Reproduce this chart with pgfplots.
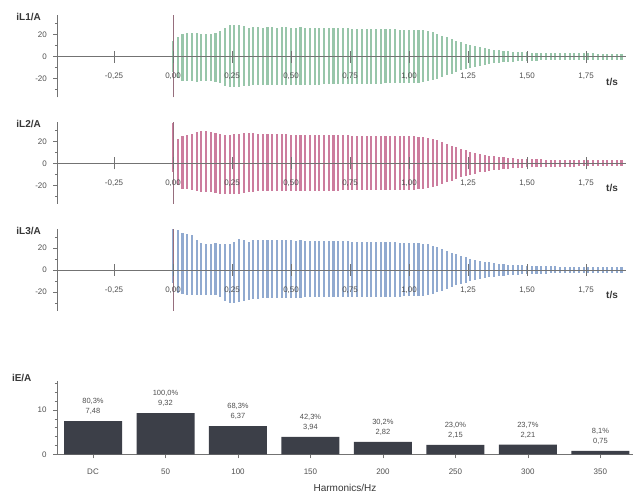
\documentclass[border=0pt]{standalone}
\usepackage{pgfplots}
\usepackage{pgfplotstable}
\pgfplotsset{compat=1.18}
\usepackage{fontspec}
\setmainfont{Liberation Sans}
\definecolor{axgray}{RGB}{115,115,115}
\definecolor{lblgray}{RGB}{80,80,80}
\definecolor{ttlcol}{RGB}{55,55,55}
\definecolor{wgreen}{RGB}{152,198,170}
\definecolor{wpink}{RGB}{204,125,158}
\definecolor{wblue}{RGB}{145,170,208}
\definecolor{barcol}{RGB}{60,63,72}
\definecolor{cursor}{RGB}{150,110,125}

\pgfplotstableread{
t h1 l1 h2 l2 h3 l3
0.00 14 -14 37 -8 37 -12
0.02 18 -19 22 -20 36.5 -21
0.04 21 -22 25 -23 34 -22
0.06 21.5 -22.5 26 -23.5 33 -22.5
0.08 21.5 -22.5 27 -24.5 31.5 -22.5
0.10 21.5 -23 28.5 -25.5 27.5 -22.5
0.12 21 -22.5 29 -26 24.5 -22.5
0.14 21 -22.5 29 -26.5 23.5 -22.5
0.16 21 -22.5 28.5 -26.5 24 -22.5
0.18 21.5 -23 27.5 -27 24.5 -23
0.20 23 -24 26.5 -27.5 24 -25
0.22 26 -26.5 26 -28 23.5 -28
0.24 28.5 -27.5 26 -28 23.5 -30
0.26 29 -28 26.5 -28 25.5 -30
0.28 29 -27.5 27 -27.5 28 -29
0.30 27.5 -27 27.5 -27 27.5 -28
0.32 26 -26.5 27.5 -26.5 25.5 -27
0.34 27 -26 27.5 -26 27 -26
0.36 27 -26 27 -25.5 27.5 -26
0.38 26.5 -25.5 27 -25.5 27 -25.5
0.40 27 -26 27 -25.5 27 -25.5
0.42 27 -26 26.5 -25.5 26.8 -25.5
0.44 26.5 -25.5 27 -25.5 27 -25.5
0.46 27 -26 26.5 -25.5 26.8 -25.5
0.48 27 -26 26.5 -25 26.8 -25.5
0.50 26.5 -25.5 26 -25 26.8 -25.5
0.52 26.5 -25.5 26 -25 26.5 -25.5
0.54 27 -26 26 -25 26.8 -25.5
0.56 26.5 -25.5 26 -25 26.5 -25
0.58 26.5 -25.5 26 -25 26.5 -25
0.60 26.5 -25.5 25.5 -25 26.3 -25
0.62 26.5 -25.5 25.5 -25 26 -24.5
0.64 26 -25 25.5 -25 26 -24.5
0.66 26 -25 25.5 -25 26 -24.5
0.68 26 -25 25.5 -25 26 -24.5
0.70 26 -25 25.5 -25 26 -24.5
0.72 26 -25 25.5 -24.5 26 -24.5
0.74 26 -25 25.5 -24.5 26 -24.5
0.76 25.5 -25 25 -24.5 25.8 -24.5
0.78 25.5 -24.5 25 -24.5 25.8 -24.5
0.80 25.5 -24.5 25 -24.5 25.5 -24.5
0.82 25.5 -24.5 25 -24.5 25.5 -24.5
0.84 25.5 -24.5 25 -24.5 25.5 -24.5
0.86 25 -24.5 25 -24.5 25.5 -24.5
0.88 25 -24.5 25 -24.5 25.3 -24.3
0.90 25 -24 25 -24.3 25 -24.3
0.92 25 -24 24.8 -24.3 25 -24.3
0.94 25 -24 24.8 -24.3 25 -24.2
0.96 24.5 -24 24.8 -24.2 24.8 -24.2
0.98 24.5 -24 24.5 -24 24.8 -24
1.00 24.5 -24 24.5 -24 24.5 -24
1.02 24.5 -23.5 24.5 -24 24.5 -24
1.04 24 -23.5 24.2 -23.5 24.2 -23.5
1.06 24 -23 24 -23.5 24 -23.2
1.08 23 -22.5 23.2 -22.8 23.2 -22.6
1.10 22 -21.5 22.2 -21.8 22 -21.5
1.12 20.5 -20 20.8 -20.4 20.6 -20.2
1.14 19 -18.5 19.3 -19 19 -18.7
1.16 17.5 -17 17.7 -17.4 17.4 -17.2
1.18 16 -15.5 16.1 -15.8 15.8 -15.6
1.20 14.5 -14 14.5 -14.3 14.3 -14.1
1.22 13 -12.5 13.1 -12.9 12.9 -12.7
1.24 11.8 -11.3 11.8 -11.6 11.6 -11.4
1.26 10.6 -10.2 10.6 -10.4 10.4 -10.2
1.28 9.5 -9.2 9.5 -9.3 9.3 -9.1
1.30 8.5 -8.3 8.5 -8.3 8.4 -8.2
1.32 7.7 -7.5 7.7 -7.5 7.6 -7.4
1.34 7 -6.8 7 -6.8 6.9 -6.7
1.36 6.3 -6.2 6.4 -6.2 6.3 -6.1
1.38 5.8 -5.7 5.8 -5.7 5.8 -5.6
1.40 5.3 -5.2 5.4 -5.2 5.3 -5.2
1.42 4.9 -4.8 5 -4.8 4.9 -4.8
1.44 4.6 -4.5 4.6 -4.5 4.6 -4.5
1.46 4.3 -4.2 4.3 -4.2 4.3 -4.2
1.48 4.1 -4 4.1 -4 4.1 -4
1.50 3.9 -3.8 3.9 -3.8 3.9 -3.8
1.52 3.7 -3.7 3.7 -3.7 3.7 -3.6
1.54 3.6 -3.5 3.6 -3.5 3.6 -3.5
1.56 3.5 -3.4 3.5 -3.4 3.5 -3.4
1.58 3.4 -3.3 3.4 -3.3 3.4 -3.3
1.60 3.3 -3.2 3.3 -3.2 3.3 -3.2
1.62 3.2 -3.2 3.2 -3.2 3.2 -3.1
1.64 3.2 -3.1 3.2 -3.1 3.1 -3.1
1.66 3.1 -3.1 3.1 -3.1 3.1 -3
1.68 3.1 -3 3.1 -3 3 -3
1.70 3 -3 3 -3 3 -2.9
1.72 3 -2.9 3 -2.9 2.9 -2.9
1.74 2.9 -2.9 2.9 -2.9 2.9 -2.9
1.76 2.9 -2.9 2.9 -2.9 2.9 -2.8
1.78 2.9 -2.8 2.9 -2.8 2.8 -2.8
1.80 2.8 -2.8 2.8 -2.8 2.8 -2.8
1.82 2.8 -2.8 2.8 -2.8 2.8 -2.7
1.84 2.8 -2.7 2.8 -2.7 2.7 -2.7
1.86 2.7 -2.7 2.7 -2.7 2.7 -2.7
1.88 2.7 -2.7 2.7 -2.7 2.7 -2.6
1.90 2.7 -2.6 2.7 -2.6 2.6 -2.6
}\wave

\pgfplotsset{
  wavepanel/.style={
    scale only axis, width=568.8pt, height=82pt,
    xmin=-0.49, xmax=1.92, ymin=-37, ymax=37.5,
    axis x line=middle, axis y line=left, axis on top,
    axis line style={-, draw=axgray, line width=0.8pt},
    xtick={-0.25,0,0.25,0.5,0.75,1,1.25,1.5,1.75},
    ytick={-20,0,20}, minor ytick={-30,-10,10,30},
    major tick length=4pt, minor tick length=2.5pt,
    xtick align=center, ytick align=outside,
    xtick style={draw=axgray, line width=0.8pt, /pgfplots/major tick length=12pt},
    ytick style={draw=axgray, line width=0.6pt},
    minor tick style={draw=axgray, line width=0.6pt},
    hide obscured x ticks=false, hide obscured y ticks=false,
    /pgf/number format/assume math mode=true,
    xticklabel style={font=\fontsize{8}{9}\selectfont, text=lblgray, yshift=-11pt,
      /pgf/number format/.cd, fixed, fixed zerofill, precision=2, use comma},
    yticklabel style={font=\fontsize{8}{9}\selectfont, text=lblgray, xshift=-3pt},
    every axis y label/.style={at={(rel axis cs:0,1)}, anchor=east, xshift=-13pt, yshift=-2pt,
      font=\bfseries\fontsize{10}{11}\selectfont, text=ttlcol},
    clip=false,
  },
  comb/.style={ycomb, no marks, line width=2.1pt},
}

\begin{document}
\begin{tikzpicture}
\useasboundingbox (0pt,0pt) rectangle (636pt,495pt);

% ---------- iL1 ----------
\begin{axis}[wavepanel, at={(57.4pt,397.6pt)}, anchor=south west, ylabel={iL1/A}]
\addplot[comb, draw=wgreen] table[x=t, y=h1] {\wave};
\addplot[comb, draw=wgreen] table[x=t, y=l1] {\wave};
\addplot[cursor, line width=0.9pt] coordinates {(0,-37) (0,37.5)};
\node[font=\bfseries\fontsize{10}{11}\selectfont, text=ttlcol] at (axis cs:1.86,-22.7) {t/s};
\end{axis}

% ---------- iL2 ----------
\begin{axis}[wavepanel, at={(57.4pt,291pt)}, anchor=south west, ylabel={iL2/A}]
\addplot[comb, draw=wpink] table[x=t, y=h2] {\wave};
\addplot[comb, draw=wpink] table[x=t, y=l2] {\wave};
\addplot[cursor, line width=0.9pt] coordinates {(0,-37) (0,37.5)};
\node[font=\bfseries\fontsize{10}{11}\selectfont, text=ttlcol] at (axis cs:1.86,-22.7) {t/s};
\end{axis}

% ---------- iL3 ----------
\begin{axis}[wavepanel, at={(57.4pt,184.3pt)}, anchor=south west, ylabel={iL3/A}]
\addplot[comb, draw=wblue] table[x=t, y=h3] {\wave};
\addplot[comb, draw=wblue] table[x=t, y=l3] {\wave};
\addplot[cursor, line width=0.9pt] coordinates {(0,-37) (0,37.5)};
\node[font=\bfseries\fontsize{10}{11}\selectfont, text=ttlcol] at (axis cs:1.86,-22.7) {t/s};
\end{axis}

% ---------- harmonics ----------
\begin{axis}[
  at={(57pt,40.7pt)}, anchor=south west,
  scale only axis, width=576pt, height=73.1pt,
  xmin=-0.497, xmax=7.45, ymin=0, ymax=16.5,
  axis x line=bottom, axis y line=left,
  axis line style={-, draw=axgray, line width=0.8pt},
  xtick={0,1,2,3,4,5,6,7},
  xticklabels={DC,50,100,150,200,250,300,350},
  ytick={0,10}, minor ytick={2,4,6,8,12,14,16},
  tick align=outside, major tick length=4pt, minor tick length=2.5pt,
  tick style={draw=axgray, line width=0.6pt},
  /pgf/number format/assume math mode=true,
  xticklabel style={font=\fontsize{8}{9}\selectfont, text=lblgray, yshift=-7pt},
  yticklabel style={font=\fontsize{8}{9}\selectfont, text=lblgray, xshift=-3pt},
  xlabel={Harmonics/Hz},
  xlabel style={font=\fontsize{10}{11}\selectfont, text=ttlcol, yshift=-3pt},
  ylabel={iE/A},
  every axis y label/.style={at={(rel axis cs:0,1)}, anchor=east, xshift=-22pt, yshift=3pt,
      font=\bfseries\fontsize{10}{11}\selectfont, text=ttlcol},
  clip=false,
]
\addplot[ybar, bar width=58pt, fill=barcol, draw=none]
  coordinates {(0,7.48) (1,9.32) (2,6.37) (3,3.94) (4,2.82) (5,2.15) (6,2.21) (7,0.75)};
\begin{scope}[every node/.style={anchor=south, align=center, yshift=3pt,
   font=\fontsize{7.5}{10}\selectfont, text=lblgray}]
\node at (axis cs:0,7.48) {80,3\%\\7,48};
\node at (axis cs:1,9.32) {100,0\%\\9,32};
\node at (axis cs:2,6.37) {68,3\%\\6,37};
\node at (axis cs:3,3.94) {42,3\%\\3,94};
\node at (axis cs:4,2.82) {30,2\%\\2,82};
\node at (axis cs:5,2.15) {23,0\%\\2,15};
\node at (axis cs:6,2.21) {23,7\%\\2,21};
\node at (axis cs:7,0.75) {8,1\%\\0,75};
\end{scope}
\end{axis}
\end{tikzpicture}
\end{document}
